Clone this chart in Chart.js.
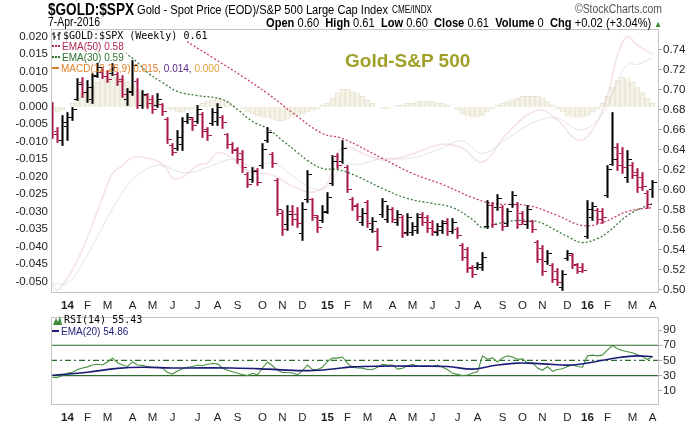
<!DOCTYPE html>
<html>
<head>
<meta charset="utf-8">
<script src="https://cdn.jsdelivr.net/npm/chart.js@4.4.1/dist/chart.umd.min.js"></script>
<style>
  body { margin: 0; background: #fff; width: 700px; height: 421px; overflow: hidden; position: relative; font-family: "Liberation Sans", Arial, sans-serif; }
  canvas { position: absolute; left: 0; }
  #main { top: 0; }
  #rsi { top: 309px; }
  .t { position: absolute; white-space: nowrap; line-height: 1; transform-origin: left center; }
  .mono { font-family: "DejaVu Sans Mono", monospace; font-size: 10.6px; }
  .lg { position: absolute; white-space: nowrap; line-height: 11px; height: 11px; font-size: 10px; }
  .bg { background: #fff; padding-right: 2px; }
  .ico { display: inline-block; vertical-align: middle; margin-right: 2px; }
  .dots { width: 8px; height: 0; border-top: 2px dotted; position: relative; top: -1px; }
  .dash { width: 7px; height: 0; border-top: 2px solid; position: relative; top: -1px; }
</style>
</head>
<body>
<canvas id="main" width="700" height="311"></canvas>
<canvas id="rsi" width="700" height="112"></canvas>

<div class="t" data-w="86" style="left:48px;top:1px;font-size:17px;font-weight:bold;">$GOLD:$SPX</div>
<div class="t" data-w="251" style="left:137px;top:3px;font-size:13px;">Gold - Spot Price (EOD)/S&amp;P 500 Large Cap Index</div>
<div class="t" data-w="40" style="left:392px;top:4px;font-size:11px;">CME/INDX</div>
<div class="t" data-w="87" style="left:575px;top:2px;font-size:13px;color:#555;">&copy;StockCharts.com</div>
<div class="t" data-w="52" style="left:48px;top:16px;font-size:12.5px;">7-Apr-2016</div>
<div class="t" data-w="396" style="left:266px;top:16px;font-size:13px;"><b>Open</b> 0.60 &nbsp;<b>High</b> 0.61 &nbsp;<b>Low</b> 0.60 &nbsp;<b>Close</b> 0.61 &nbsp;<b>Volume</b> 0 &nbsp;<b>Chg</b> +0.02 (+3.04%) <span style="color:#2a8a2a;font-size:9px;">&#9650;</span></div>

<div class="lg mono bg" style="left:52px;top:30px;"><svg class="ico" width="9" height="10"><path d="M2 1v8M0 3h2M2 6h2M7 1v8M5 4h2M7 2h2" stroke="#000" stroke-width="1"/></svg>$GOLD:$SPX (Weekly) 0.61</div>
<div class="lg bg" style="left:52px;top:41px;color:#b0284c;"><span class="ico dots" style="border-color:#b0284c"></span>EMA(50) 0.58</div>
<div class="lg bg" style="left:52px;top:52px;color:#2d6e2d;"><span class="ico dots" style="border-color:#2d6e2d"></span>EMA(30) 0.59</div>
<div class="lg" style="left:52px;top:63px;color:#e2802a;"><span class="ico dash" style="border-color:#e2802a"></span>MACD(12,26,9) 0.015, <span style="color:#5b2a86">0.014,</span> <span style="color:#e8a040">0.000</span></div>
<div class="t" style="left:345px;top:51px;font-size:19px;font-weight:bold;color:#a0a028;">Gold-S&amp;P 500</div>

<div class="lg mono" style="left:53px;top:314px;"><svg class="ico" width="9" height="10"><path d="M0 10L3 3L5 7L7 1L9 10Z" fill="#3d8a3d"/></svg>RSI(14) 55.43</div>
<div class="lg" style="left:52px;top:326px;color:#1c1c78;"><span class="ico dash" style="border-color:#1c1c78"></span>EMA(20) 54.86</div>

<script>
// fit the condensed header texts to their widths
document.querySelectorAll('[data-w]').forEach(el => {
  const w = el.getBoundingClientRect().width;
  el.style.transform = 'scaleX(' + (el.dataset.w / w) + ')';
});

// weekly bars, week of 16-Dec-2013 .. week of 4-Apr-2016
const firstMonday = Date.UTC(2013, 11, 16);
const weekCount = 121;
const monthLetters = ['J', 'F', 'M', 'A', 'M', 'J', 'J', 'A', 'S', 'O', 'N', 'D'];

const opens = [
  .683, .658, .649, .663, .672, .690, .707, .697, .690, .714,
  .717, .713, .716, .715, .710, .690, .697, .708, .684, .694,
  .690, .684, .685, .670, .644, .641, .645, .668, .670, .668,
  .675, .660, .666, .668, .672, .655, .645, .640, .636, .615,
  .610, .619, .624, .649, .635, .609, .576, .565, .578, .575,
  .556, .590, .590, .572, .569, .578, .606, .633, .628, .622,
  .590, .584, .567, .587, .560, .558, .575, .570, .580, .567,
  .572, .557, .557, .559, .575, .572, .567, .557, .559, .568,
  .558, .560, .544, .540, .522, .522, .522, .563, .584, .582,
  .582, .566, .585, .585, .576, .565, .568, .547, .541, .528,
  .524, .518, .502, .531, .534, .524, .522, .553, .572, .579,
  .578, .594, .625, .642, .636, .612, .624, .617, .612, .596,
  .600
];
const highs = [
  .687, .662, .674, .677, .682, .711, .712, .709, .716, .727,
  .722, .719, .726, .717, .714, .701, .729, .711, .699, .696,
  .694, .696, .686, .672, .646, .659, .672, .676, .672, .684,
  .677, .662, .681, .686, .674, .656, .647, .642, .639, .617,
  .622, .621, .646, .662, .637, .611, .579, .584, .584, .582,
  .587, .619, .591, .574, .584, .597, .634, .636, .649, .624,
  .592, .586, .581, .589, .572, .561, .591, .584, .582, .579,
  .574, .576, .567, .576, .577, .574, .569, .566, .569, .571,
  .571, .562, .546, .542, .524, .527, .537, .589, .587, .595,
  .584, .581, .598, .587, .578, .584, .569, .549, .544, .539,
  .526, .521, .519, .539, .536, .526, .526, .589, .587, .581,
  .581, .624, .677, .646, .642, .639, .627, .621, .617, .599,
  .609
];
const lows = [
  .651, .647, .644, .649, .669, .689, .692, .687, .686, .712,
  .711, .707, .714, .704, .692, .684, .694, .681, .681, .681,
  .676, .682, .674, .646, .634, .639, .639, .666, .659, .666,
  .652, .649, .664, .664, .661, .641, .636, .626, .617, .602,
  .607, .604, .621, .647, .622, .574, .554, .559, .564, .562,
  .549, .587, .569, .557, .567, .576, .604, .621, .626, .597,
  .579, .569, .564, .562, .557, .539, .572, .567, .567, .564,
  .552, .554, .554, .556, .564, .557, .554, .554, .556, .554,
  .556, .551, .529, .517, .512, .520, .519, .561, .562, .579,
  .559, .563, .582, .561, .565, .561, .557, .527, .514, .525,
  .507, .504, .499, .529, .521, .516, .517, .551, .569, .566,
  .566, .592, .624, .619, .616, .607, .611, .597, .599, .581,
  .592
];
const closes = [
  .655, .649, .667, .672, .680, .705, .697, .702, .713, .722,
  .713, .710, .722, .708, .695, .698, .724, .684, .695, .686,
  .680, .690, .678, .650, .637, .652, .668, .672, .664, .680,
  .658, .654, .677, .682, .667, .645, .639, .630, .622, .605,
  .618, .607, .640, .657, .626, .580, .560, .575, .570, .566,
  .580, .615, .574, .562, .577, .592, .628, .624, .641, .600,
  .583, .573, .576, .566, .568, .543, .588, .580, .570, .575,
  .556, .572, .563, .572, .567, .561, .558, .563, .566, .558,
  .567, .554, .532, .521, .515, .525, .532, .584, .565, .591,
  .563, .578, .594, .565, .568, .580, .560, .530, .518, .536,
  .510, .507, .515, .536, .525, .518, .519, .580, .583, .570,
  .572, .620, .630, .624, .622, .630, .614, .602, .603, .585,
  .607
];

// moving averages on price axis (bar index, value)
const ema50Idx = [23, 26, 32, 38, 43, 49, 54, 58, 66, 72, 78, 84, 88, 95, 101, 106, 110, 115, 120];
const ema50 = [.762, .751, .732, .713, .696, .673, .656, .651, .631, .616, .605, .592, .586, .584, .574, .564, .567, .578, .582];
const ema30Idx = [8, 15, 17, 19, 22, 25, 29, 34, 37, 40, 43, 46, 49, 51, 54, 57, 61, 66, 71, 76, 80, 84, 86, 89, 93, 97, 100, 103, 106, 109, 111, 115, 118, 120];
const ema30 = [.760, .735, .727, .717, .707, .698, .694, .690, .680, .668, .661, .649, .637, .629, .621, .620, .613, .601, .591, .586, .582, .570, .562, .566, .569, .568, .561, .553, .547, .551, .557, .574, .582, .586];

// MACD(12,26,9) on left axis
const macdIdx = [0, 1, 4, 7, 10, 12, 14, 16, 19, 21, 23, 24, 26, 29, 31, 33, 36, 38, 40, 44, 48, 52, 55, 57, 59, 62, 66, 70, 74, 78, 82, 86, 91, 97, 101, 105, 108, 111, 113, 115, 117, 120];
const macdLine = [-0.0505, -0.0524, -0.0466, -0.0372, -0.026, -0.019, -0.0168, -0.0144, -0.0147, -0.0155, -0.0181, -0.0204, -0.0201, -0.0167, -0.0161, -0.0132, -0.0147, -0.0175, -0.0187, -0.0195, -0.0227, -0.0244, -0.0218, -0.0133, -0.0115, -0.0133, -0.0152, -0.0144, -0.0124, -0.0107, -0.0118, -0.0158, -0.0075, -0.001, -0.0038, -0.0095, -0.0067, 0.0033, 0.0148, 0.020, 0.0176, 0.015];
const signalIdx = [0, 3, 6, 9, 13, 16, 19, 22, 25, 28, 31, 35, 37, 40, 44, 48, 52, 55, 58, 62, 66, 70, 74, 78, 82, 86, 91, 97, 101, 105, 108, 111, 113, 115, 117, 120];
const signalLine = [-0.0504, -0.0504, -0.0447, -0.037, -0.0267, -0.0209, -0.0177, -0.0167, -0.0185, -0.0187, -0.0173, -0.0152, -0.0152, -0.0172, -0.016, -0.0197, -0.0234, -0.0228, -0.017, -0.0163, -0.0147, -0.0149, -0.0139, -0.0117, -0.0098, -0.0133, -0.009, -0.004, -0.0033, -0.0065, -0.0052, 0.0003, 0.0073, 0.012, 0.0121, 0.014];
const macdHist = [
  -0.0005, -0.0015, -0.001, 0, 0.001, 0.0025, 0.004, 0.005, 0.006, 0.007,
  0.008, 0.0085, 0.009, 0.0085, 0.008, 0.007, 0.006, 0.005, 0.004, 0.003,
  0.002, 0.0015, 0.0005, -0.0005, -0.001, -0.0015, -0.0015, -0.001, -0.0005, 0.0005,
  0.001, 0.0015, 0.002, 0.0025, 0.002, 0.0015, 0.0005, 0, -0.0005, -0.0015,
  -0.002, -0.0025, -0.003, -0.003, -0.0035, -0.004, -0.004, -0.0035, -0.003, -0.0025,
  -0.002, -0.0015, -0.001, -0.0005, 0.0005, 0.001, 0.0025, 0.004, 0.005, 0.005,
  0.0045, 0.004, 0.003, 0.002, 0.001, 0, -0.0005, -0.0005, 0, 0.0005,
  0.0005, 0.001, 0.001, 0.0015, 0.0015, 0.0015, 0.0015, 0.001, 0.001, 0.0005,
  0, -0.001, -0.002, -0.0025, -0.003, -0.003, -0.0025, -0.0015, -0.0005, 0.0005,
  0.001, 0.0015, 0.002, 0.0025, 0.003, 0.003, 0.003, 0.003, 0.0025, 0.0015,
  0.0005, -0.0005, -0.0015, -0.0025, -0.003, -0.003, -0.003, -0.0025, -0.0015, -0.0005,
  0.001, 0.003, 0.0055, 0.0075, 0.0085, 0.008, 0.007, 0.0055, 0.004, 0.0025,
  0.001
];

// RSI(14) and its EMA(20)
const rsi = [
  27.6, 27.6, 30, 33, 34.5, 38, 40, 41.5, 44, 45,
  44, 48, 53, 47, 44, 42, 48, 44, 43.5, 42,
  41, 41, 40, 34, 32, 36, 39, 41, 42, 44,
  43, 45, 46, 45.5, 40, 37, 35, 33, 31.5, 30,
  33, 31, 40, 48, 43, 37, 34, 34, 33.5, 31,
  37, 44, 38, 38, 41, 49, 53, 53, 54.5, 46,
  41, 40, 39.8, 38, 38, 41, 45, 44, 44, 38.5,
  39.8, 43, 45, 42.2, 42, 42, 42, 43.9, 41, 38,
  33, 31.6, 30, 30.8, 33, 34.9, 56, 51.5, 53.3, 48,
  53.3, 56, 54.5, 51.5, 52, 47, 47, 40, 37, 42,
  35.7, 38, 39, 42, 43.9, 42, 41, 56, 57, 56,
  57.3, 64, 69.6, 65.5, 63, 61.5, 60, 57.3, 55, 51.2,
  55.4
];
const rsiEmaIdx = [0, 7, 13, 18, 24, 30, 36, 43, 50, 55, 60, 66, 72, 79, 84, 88, 93, 98, 104, 109, 113, 117, 120];
const rsiEma = [30.5, 34.5, 39.5, 41, 40, 40.2, 40, 38.5, 36.5, 38, 41.5, 42.5, 42.5, 42, 38.5, 43, 46.5, 45.5, 44, 49, 53.5, 56, 54.9];
const rsiLevels = [70, 50, 30];

const macdTicks = [0.020, 0.015, 0.010, 0.005, 0, -0.005, -0.010, -0.015, -0.020, -0.025, -0.030, -0.035, -0.040, -0.045, -0.050];
const priceTicks = [0.74, 0.72, 0.70, 0.68, 0.66, 0.64, 0.62, 0.60, 0.58, 0.56, 0.54, 0.52, 0.50];
const rsiTicks = [90, 70, 50, 30, 10];

// month tick positions from the weekly dates
const tickIdx = [];
const tickText = [];
for (let i = 1; i < weekCount; i++) {
  const d = new Date(firstMonday + i * 7 * 864e5);
  const p = new Date(firstMonday + (i - 1) * 7 * 864e5);
  if (d.getUTCMonth() !== p.getUTCMonth()) {
    tickIdx.push(i);
    tickText.push(d.getUTCMonth() === 0 ? String(d.getUTCFullYear()).slice(2) : monthLetters[d.getUTCMonth()]);
  }
}

const xMin = -0.3, xMax = 121.3;
const upColor = '#000000';
const downColor = '#a8184a';
const isUp = i => closes[i] >= opens[i];

function tickImage(color, right) {
  const c = document.createElement('canvas');
  c.width = 8; c.height = 1;
  const g = c.getContext('2d');
  g.fillStyle = color;
  g.fillRect(right ? 4.7 : 0, 0, 3.3, 1);
  return c;
}
const openImg = { up: tickImage(upColor, false), down: tickImage(downColor, false) };
const closeImg = { up: tickImage(upColor, true), down: tickImage(downColor, true) };

const pts = (idx, vals) => idx.map((x, k) => ({ x: x, y: vals[k] }));

const panelBorder = {
  id: 'panelBorder',
  afterDraw(chart) {
    const a = chart.chartArea, g = chart.ctx;
    g.save();
    g.strokeStyle = '#c4c4c4';
    g.lineWidth = 1;
    g.strokeRect(Math.round(a.left) + 0.5, Math.round(a.top) + 0.5, Math.round(a.right - a.left) - 1, Math.round(a.bottom - a.top) - 1);
    g.restore();
  }
};

Chart.defaults.font.family = '"Liberation Sans", Arial, sans-serif';
Chart.defaults.color = '#222';

function xScale() {
  return {
    type: 'linear', min: xMin, max: xMax, offset: false,
    grid: { display: false, drawTicks: false },
    border: { display: false },
    afterBuildTicks: s => { s.ticks = tickIdx.map(v => ({ value: v })); },
    ticks: {
      autoSkip: false, maxRotation: 0, padding: 6, color: '#222',
      font: c => ({ size: 11.5, weight: /^\d/.test(tickText[c.index] || '') ? 'bold' : 'normal' }),
      callback: (v, i) => tickText[i]
    }
  };
}

new Chart(document.getElementById('main'), {
  type: 'bar',
  data: {
    datasets: [
      { type: 'bar', data: macdHist.map((v, i) => ({ x: i, y: v })), yAxisID: 'macd', grouped: false,
        backgroundColor: '#f5f3e8', borderColor: '#dcd8c2', borderWidth: 0.6, barThickness: 4.8, order: 10 },
      { type: 'line', data: pts(macdIdx, macdLine), yAxisID: 'macd', borderColor: 'rgba(228,185,185,0.38)',
        borderWidth: 1.6, pointRadius: 0, tension: 0.4, order: 9 },
      { type: 'line', data: pts(signalIdx, signalLine), yAxisID: 'macd', borderColor: 'rgba(195,190,212,0.45)',
        borderWidth: 1, pointRadius: 0, tension: 0.4, order: 9 },
      { type: 'line', data: pts(ema50Idx, ema50), yAxisID: 'price', borderColor: '#c8406a',
        borderWidth: 1.3, borderDash: [2, 2], pointRadius: 0, tension: 0.4, order: 5 },
      { type: 'line', data: pts(ema30Idx, ema30), yAxisID: 'price', borderColor: '#3a7a3a',
        borderWidth: 1.3, borderDash: [2, 2], pointRadius: 0, tension: 0.4, order: 5 },
      { type: 'bar', data: highs.map((h, i) => ({ x: i, y: [lows[i], h] })), yAxisID: 'price', grouped: false,
        backgroundColor: c => isUp(c.dataIndex) ? upColor : downColor, barThickness: 1.4, order: 2 },
      { type: 'line', data: opens.map((v, i) => ({ x: i, y: v })), yAxisID: 'price', showLine: false,
        pointRadius: 3, pointStyle: c => isUp(c.dataIndex) ? openImg.up : openImg.down, order: 1 },
      { type: 'line', data: closes.map((v, i) => ({ x: i, y: v })), yAxisID: 'price', showLine: false,
        pointRadius: 3, pointStyle: c => isUp(c.dataIndex) ? closeImg.up : closeImg.down, order: 1 }
    ]
  },
  options: {
    responsive: false, animation: false, events: [],
    layout: { padding: { top: 29, left: 0, right: 0, bottom: 0 } },
    plugins: { legend: { display: false }, tooltip: { enabled: false } },
    scales: {
      x: Object.assign(xScale(), { afterFit: s => { s.height = 18; } }),
      macd: {
        position: 'left', min: -0.0532, max: 0.0222,
        grid: { display: false, drawTicks: false }, border: { display: false },
        afterBuildTicks: s => { s.ticks = macdTicks.map(v => ({ value: v })); },
        afterFit: s => { s.width = 51; },
        ticks: { padding: 3, font: { size: 11.5 }, callback: v => v.toFixed(3) }
      },
      price: {
        position: 'right', min: 0.4965, max: 0.7605,
        grid: { display: true, drawOnChartArea: false, drawTicks: true, tickLength: 3, color: '#aaa' },
        border: { display: false },
        afterBuildTicks: s => { s.ticks = priceTicks.map(v => ({ value: v })); },
        afterFit: s => { s.width = 41; },
        ticks: { padding: 1, font: { size: 11.5 }, callback: v => v.toFixed(2) }
      }
    }
  },
  plugins: [panelBorder]
});

new Chart(document.getElementById('rsi'), {
  type: 'line',
  data: {
    datasets: [
      ...rsiLevels.map(l => ({
        data: [{ x: xMin, y: l }, { x: xMax, y: l }], yAxisID: 'rsiAxis', borderColor: '#2e6b2e',
        borderWidth: 1.2, borderDash: l === 50 ? [6, 3, 2, 3] : [], pointRadius: 0, order: 5
      })),
      { data: rsi.map((v, i) => ({ x: i, y: v })), yAxisID: 'rsiAxis', borderColor: '#4a8f42',
        borderWidth: 1.1, pointRadius: 0, tension: 0, order: 2 },
      { data: pts(rsiEmaIdx, rsiEma), yAxisID: 'rsiAxis', borderColor: '#1c1c78',
        borderWidth: 1.6, pointRadius: 0, tension: 0.4, order: 1 }
    ]
  },
  options: {
    responsive: false, animation: false, events: [],
    layout: { padding: { top: 3, left: 0, right: 0, bottom: 0 } },
    plugins: { legend: { display: false }, tooltip: { enabled: false } },
    scales: {
      x: Object.assign(xScale(), { afterFit: s => { s.height = 16; } }),
      spacer: {
        position: 'left', min: -8.7, max: 107.3,
        grid: { display: false, drawTicks: false }, border: { display: false },
        ticks: { display: false }, afterFit: s => { s.width = 51; }
      },
      rsiAxis: {
        position: 'right', min: -8.7, max: 107.3,
        grid: { display: true, drawOnChartArea: false, drawTicks: true, tickLength: 3, color: '#aaa' },
        border: { display: false },
        afterBuildTicks: s => { s.ticks = rsiTicks.map(v => ({ value: v })); },
        afterFit: s => { s.width = 41; },
        ticks: { padding: 1, font: { size: 11.5 } }
      }
    }
  },
  plugins: [panelBorder]
});
</script>
</body>
</html>
